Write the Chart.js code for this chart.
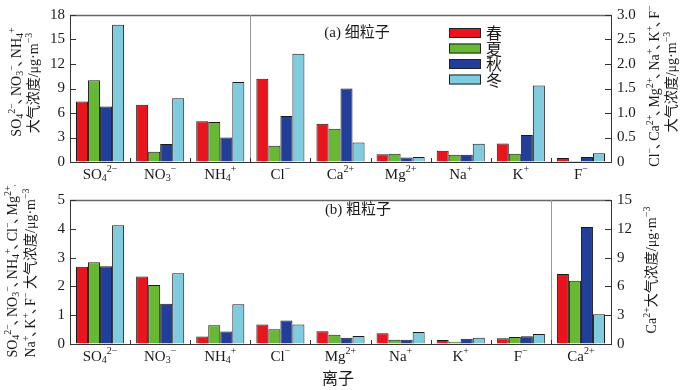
<!DOCTYPE html>
<html>
<head>
<meta charset="utf-8">
<script src="https://cdn.jsdelivr.net/npm/chart.js@4.4.1/dist/chart.umd.min.js"></script>
<style>
  html, body { margin: 0; padding: 0; background: #fff; }
  #wrap { position: relative; width: 686px; height: 390px; }
  .panel { position: absolute; left: 0; width: 686px; }
</style>
</head>
<body>
<div id="wrap">
  <div class="panel" style="top:0;height:185px"><canvas id="fine" width="686" height="185"></canvas></div>
  <div class="panel" style="top:185px;height:205px"><canvas id="coarse" width="686" height="205"></canvas></div>
</div>
<script>
// seasons and colours
const seasons = ['春', '夏', '秋', '冬']
const seasonColors = ['#e8151d', '#67b934', '#213f99', '#80cbdd']

// (a) fine particles: first 3 ions on left axis, the rest on right axis
const fineIons = ['SO_{4}^{2−}', 'NO_{3}^{−}', 'NH_{4}^{+}', 'Cl^{−}', 'Ca^{2+}', 'Mg^{2+}', 'Na^{+}', 'K^{+}', 'F^{−}']
const fineSplit = 3
const fineSpring = [7.4, 7.0, 5.0, 1.70, 0.78, 0.16, 0.23, 0.38, 0.08]
const fineSummer = [10.0, 1.25, 4.9, 0.33, 0.68, 0.17, 0.15, 0.17, 0.02]
const fineAutumn = [6.8, 2.2, 3.0, 0.94, 1.50, 0.09, 0.15, 0.55, 0.10]
const fineWinter = [16.8, 7.8, 9.8, 2.21, 0.40, 0.10, 0.37, 1.56, 0.18]

// (b) coarse particles: Ca2+ on the right axis
const coarseIons = ['SO_{4}^{2−}', 'NO_{3}^{−}', 'NH_{4}^{+}', 'Cl^{−}', 'Mg^{2+}', 'Na^{+}', 'K^{+}', 'F^{−}', 'Ca^{2+}']
const coarseSplit = 8
const coarseSpring = [2.68, 2.34, 0.26, 0.68, 0.44, 0.37, 0.14, 0.20, 7.3]
const coarseSummer = [2.84, 2.05, 0.65, 0.51, 0.32, 0.15, 0.08, 0.24, 6.6]
const coarseAutumn = [2.70, 1.40, 0.43, 0.82, 0.22, 0.15, 0.18, 0.27, 12.2]
const coarseWinter = [4.12, 2.46, 1.38, 0.68, 0.28, 0.42, 0.22, 0.35, 3.1]

const SERIF = '"Liberation Serif", "Noto Sans CJK SC", serif'
const CJK = '"Noto Sans CJK SC", "Liberation Serif", sans-serif'

// tiny markup: _{sub} ^{sup}; the 、 mark gets a narrow advance
function richParts (str) {
  const parts = []
  const re = /([_^])\{([^}]*)\}|(、)|([^_^、]+)/g
  let m
  while ((m = re.exec(str))) {
    if (m[4]) parts.push({ t: m[4], k: 0 })
    else if (m[3]) parts.push({ t: m[3], k: 2 })
    else parts.push({ t: m[2], k: m[1] === '^' ? 1 : -1 })
  }
  return parts
}

function drawRich (ctx, str, x, y, size, align, family) {
  const parts = richParts(str)
  const small = Math.round(size * 0.68)
  let w = 0
  for (const p of parts) {
    ctx.font = (p.k === 1 || p.k === -1 ? small : size) + 'px ' + (family || SERIF)
    p.w = p.k === 2 ? size * 0.5 : ctx.measureText(p.t).width
    w += p.w
  }
  let cx = align === 'center' ? x - w / 2 : (align === 'right' ? x - w : x)
  ctx.textAlign = 'left'
  ctx.textBaseline = 'middle'
  for (const p of parts) {
    ctx.font = (p.k === 1 || p.k === -1 ? small : size) + 'px ' + (family || SERIF)
    const dy = p.k === 1 ? -size * 0.36 : (p.k === -1 ? size * 0.22 : 0)
    ctx.fillText(p.t, cx - (p.k === 2 ? size * 0.1 : 0), y + dy)
    cx += p.w
  }
}

function drawVertical (ctx, str, x, y, size) {
  ctx.save()
  ctx.translate(x, y)
  ctx.rotate(-Math.PI / 2)
  drawRich(ctx, str, 0, 0, size, 'center')
  ctx.restore()
}

function buildDatasets (series, split) {
  const sets = []
  series.forEach((vals, s) => {
    sets.push({
      label: seasons[s],
      data: vals.map((v, i) => (i < split ? v : null)),
      backgroundColor: seasonColors[s],
      borderColor: '#1b1b1b',
      borderWidth: 1,
      yAxisID: 'yL',
      skipNull: true
    })
  })
  series.forEach((vals, s) => {
    sets.push({
      label: seasons[s] + '_r',
      data: vals.map((v, i) => (i >= split ? v : null)),
      backgroundColor: seasonColors[s],
      borderColor: '#1b1b1b',
      borderWidth: 1,
      yAxisID: 'yR',
      skipNull: true
    })
  })
  return sets
}

// axis box, inward ticks, separator, labels, titles
function decorPlugin (cfg) {
  return {
    id: 'decor',
    afterDraw (chart) {
      const ctx = chart.ctx
      const a = chart.chartArea
      const xs = chart.scales.x
      ctx.save()
      // top border
      ctx.strokeStyle = '#666'
      ctx.lineWidth = 1.5
      ctx.beginPath()
      ctx.moveTo(a.left, a.top + 0.5)
      ctx.lineTo(a.right, a.top + 0.5)
      ctx.stroke()
      // inward y ticks
      ctx.strokeStyle = '#333'
      ctx.lineWidth = 1
      for (const id of ['yL', 'yR']) {
        const sc = chart.scales[id]
        for (const t of sc.ticks) {
          const y = Math.round(sc.getPixelForValue(t.value)) + 0.5
          ctx.beginPath()
          if (id === 'yL') { ctx.moveTo(a.left, y); ctx.lineTo(a.left + 6, y) } else { ctx.moveTo(a.right, y); ctx.lineTo(a.right - 6, y) }
          ctx.stroke()
        }
      }
      // category boundary ticks
      const n = chart.data.labels.length
      for (let i = 1; i < n; i++) {
        const x = Math.round((xs.getPixelForValue(i - 1) + xs.getPixelForValue(i)) / 2) + 0.5
        if (i === cfg.split) {
          ctx.strokeStyle = '#999'
          ctx.beginPath(); ctx.moveTo(x, a.top); ctx.lineTo(x, a.bottom); ctx.stroke()
          ctx.strokeStyle = '#333'
        }
        ctx.beginPath(); ctx.moveTo(x, a.bottom); ctx.lineTo(x, a.bottom - 4); ctx.stroke()
      }
      // category labels
      ctx.fillStyle = '#1a1a1a'
      chart.data.labels.forEach((lab, i) => {
        drawRich(ctx, lab, xs.getPixelForValue(i), a.bottom + 13, 15, 'center')
      })
      // panel label
      drawRich(ctx, cfg.panel[0], cfg.panel[1], cfg.panel[2], 15, 'center', SERIF)
      // axis titles
      for (const t of cfg.titles) drawVertical(ctx, t[0], t[1], t[2], 14)
      // x title
      if (cfg.xTitle) {
        ctx.font = '16px ' + CJK
        ctx.textAlign = 'center'
        ctx.textBaseline = 'middle'
        ctx.fillText(cfg.xTitle[0], cfg.xTitle[1], cfg.xTitle[2])
      }
      // legend
      if (cfg.legend) {
        for (let s = 0; s < 4; s++) {
          const ds = chart.data.datasets[s]
          const y = 28 + s * 15.5
          ctx.fillStyle = ds.backgroundColor
          ctx.fillRect(449, y, 32, 10)
          ctx.strokeStyle = '#222'
          ctx.strokeRect(449.5, y + 0.5, 31, 9)
          ctx.fillStyle = '#1a1a1a'
          ctx.font = '16px ' + CJK
          ctx.textAlign = 'left'
          ctx.textBaseline = 'middle'
          ctx.fillText(ds.label, 486, y + 5)
        }
      }
      ctx.restore()
    }
  }
}

function makeChart (canvasId, labels, series, split, axes, cfg) {
  return new Chart(document.getElementById(canvasId), {
    type: 'bar',
    data: { labels: labels, datasets: buildDatasets(series, split) },
    options: {
      responsive: false,
      animation: false,
      devicePixelRatio: 1,
      layout: { padding: { top: cfg.top, left: 0, right: 0, bottom: 0 } },
      datasets: { bar: { categoryPercentage: 0.8, barPercentage: 1.0 } },
      plugins: { legend: { display: false }, tooltip: { enabled: false } },
      scales: {
        x: {
          offset: true,
          grid: { display: false },
          border: { display: true, color: '#333', width: 1 },
          ticks: { display: false },
          afterFit: (s) => { s.height = cfg.xHeight }
        },
        yL: {
          position: 'left',
          min: 0,
          max: axes[0],
          grid: { drawOnChartArea: false, drawTicks: false },
          border: { display: true, color: '#333', width: 1 },
          ticks: { stepSize: axes[1], padding: 5, color: '#1a1a1a', font: { family: SERIF, size: 15 } },
          afterFit: (s) => { s.width = 70 }
        },
        yR: {
          position: 'right',
          min: 0,
          max: axes[2],
          grid: { drawOnChartArea: false, drawTicks: false },
          border: { display: true, color: '#333', width: 1 },
          ticks: {
            stepSize: axes[3],
            padding: 6,
            color: '#1a1a1a',
            font: { family: SERIF, size: 15 },
            callback: (v) => (v === 0 ? '0' : (axes[4] ? v.toFixed(axes[4]) : String(v)))
          },
          afterFit: (s) => { s.width = 75 }
        }
      }
    },
    plugins: [decorPlugin(cfg)]
  })
}

makeChart('fine', fineIons, [fineSpring, fineSummer, fineAutumn, fineWinter], fineSplit,
  [18, 3, 3.0, 0.5, 1],
  {
    top: 14,
    xHeight: 23,
    split: fineSplit,
    panel: ['(a) 细粒子', 357, 33],
    titles: [
      ['SO_{4}^{2−}、NO_{3}^{−}、NH_{4}^{+}', 17, 82],
      ['大气浓度/μg·m^{−3}', 34, 83],
      ['Cl^{−}、Ca^{2+}、Mg^{2+}、Na^{+}、K^{+}、F^{−}', 655, 86],
      ['大气浓度/μg·m^{−3}', 672, 82]
    ],
    legend: true
  })

makeChart('coarse', coarseIons, [coarseSpring, coarseSummer, coarseAutumn, coarseWinter], coarseSplit,
  [5, 1, 15, 3, 0],
  {
    top: 11,
    xHeight: 46,
    split: coarseSplit,
    panel: ['(b) 粗粒子', 358, 25],
    titles: [
      ['SO_{4}^{2−}、NO_{3}^{−}、NH_{4}^{+}、Cl^{−}、Mg^{2+}、', 13, 83],
      ['Na^{+}、K^{+}、F^{−} 大气浓度/μg·m^{−3}', 31, 88],
      ['Ca^{2+}大气浓度/μg·m^{−3}', 652, 85]
    ],
    xTitle: ['离子', 338, 193],
    legend: false
  })
</script>
</body>
</html>
